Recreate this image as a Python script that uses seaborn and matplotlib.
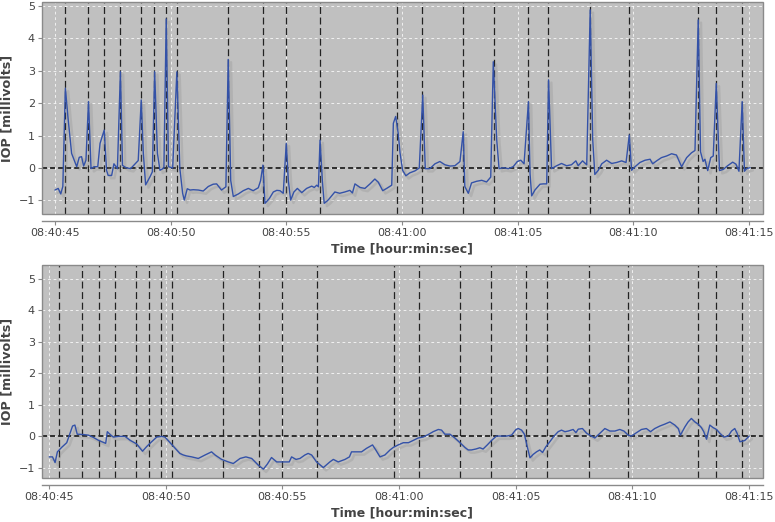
import numpy as np
import pandas as pd
import matplotlib
matplotlib.use("Agg")
import matplotlib.pyplot as plt
import matplotlib.patheffects as pe
from matplotlib.patches import Rectangle
from matplotlib.ticker import FuncFormatter, MultipleLocator
import seaborn as sns

# --- data (time in seconds after 08:40:00, IOP in millivolts) ---
events = [45.43, 46.43, 47.13, 47.82, 48.72, 49.29, 49.82, 50.28, 52.48,
          54.00, 55.01, 56.47, 59.77, 60.88, 62.64, 63.97, 65.46, 66.33,
          68.14, 69.83, 72.81, 73.60, 74.71]

top_t = [45.00, 45.14, 45.25, 45.34, 45.45, 45.56, 45.72, 45.94, 46.05, 46.15,
         46.24, 46.34, 46.45, 46.56, 46.69, 46.85, 46.95, 47.13, 47.23, 47.30,
         47.45, 47.55, 47.70, 47.83, 47.92, 48.07, 48.27, 48.53, 48.60, 48.73,
         48.82, 48.92, 49.11, 49.21, 49.31, 49.43, 49.54, 49.71, 49.81, 49.91,
         50.09, 50.27, 50.40, 50.52, 50.59, 50.72, 50.84, 50.98, 51.20, 51.41,
         51.63, 51.84, 51.99, 52.20, 52.39, 52.49, 52.60, 52.71, 52.93, 53.14,
         53.36, 53.57, 53.79, 53.89, 53.99, 54.08, 54.27, 54.44, 54.59, 54.73,
         54.87, 55.00, 55.09, 55.19, 55.33, 55.48, 55.67, 55.88, 56.10, 56.21,
         56.32, 56.39, 56.46, 56.56, 56.64, 56.81, 57.10, 57.31, 57.53, 57.75,
         57.86, 57.97, 58.19, 58.40, 58.62, 58.83, 58.98, 59.17, 59.34, 59.56,
         59.63, 59.73, 59.84, 59.92, 60.03, 60.17, 60.34, 60.56, 60.75, 60.90,
         61.01, 61.21, 61.43, 61.64, 61.86, 62.08, 62.29, 62.51, 62.65, 62.72,
         62.87, 63.01, 63.23, 63.45, 63.66, 63.84, 63.95, 64.10, 64.20, 64.38,
         64.60, 64.81, 64.99, 65.14, 65.28, 65.47, 65.54, 65.61, 65.75, 65.97,
         66.11, 66.26, 66.34, 66.47, 66.69, 66.90, 67.12, 67.33, 67.52, 67.62,
         67.81, 67.99, 68.14, 68.25, 68.34, 68.49, 68.64, 68.85, 69.07, 69.28,
         69.50, 69.69, 69.83, 69.93, 70.08, 70.29, 70.51, 70.73, 70.84, 71.01,
         71.22, 71.44, 71.66, 71.87, 72.09, 72.31, 72.52, 72.67, 72.81, 72.91,
         73.02, 73.10, 73.22, 73.35, 73.46, 73.59, 73.73, 73.90, 74.08, 74.30,
         74.44, 74.57, 74.71, 74.81, 74.90, 75.05]
top_v = [-0.68, -0.63, -0.80, -0.57, 2.46, 1.58, 0.45, 0.04, 0.33, 0.35,
         0.06, 0.24, 2.05, -0.02, 0.04, 0.04, 0.76, 1.17, -0.07, -0.23,
         -0.23, 0.13, -0.02, 2.97, 0.08, 0.01, -0.02, 0.18, 0.23, 2.10,
         0.46, -0.52, -0.27, -0.12, 2.97, 0.45, -0.07, 0.00, 4.60, 0.04,
         0.00, 2.97, -0.02, -0.78, -0.99, -0.64, -0.68, -0.67, -0.68, -0.71,
         -0.57, -0.50, -0.49, -0.68, -0.58, 3.35, -0.39, -0.88, -0.80, -0.70,
         -0.63, -0.70, -0.61, -0.39, 0.09, -1.09, -0.94, -0.74, -0.69, -0.70,
         -0.78, 0.76, -0.39, -0.99, -0.74, -0.63, -0.76, -0.63, -0.56, -0.60,
         -0.53, -0.58, 0.86, -0.39, -1.09, -0.99, -0.74, -0.78, -0.74, -0.69,
         -0.77, -0.49, -0.60, -0.63, -0.49, -0.34, -0.44, -0.70, -0.63, -0.53,
         1.38, 1.59, 1.07, 0.46, -0.07, -0.24, -0.15, -0.09, 0.00, 2.25,
         -0.02, -0.02, 0.13, 0.20, 0.10, 0.06, 0.07, 0.20, 1.12, -0.57,
         -0.78, -0.46, -0.41, -0.38, -0.43, -0.28, 3.28, 0.86, -0.02, 0.01,
         -0.02, 0.04, 0.20, 0.24, 0.13, 2.05, -0.18, -0.86, -0.68, -0.50,
         -0.49, -0.49, 2.72, -0.02, 0.07, 0.14, 0.07, 0.10, 0.22, 0.07,
         0.22, 0.10, 4.88, 0.86, -0.20, -0.07, 0.13, 0.24, 0.14, 0.17,
         0.22, 0.17, 1.02, -0.07, 0.04, 0.17, 0.24, 0.27, 0.13, 0.22,
         0.32, 0.37, 0.44, 0.40, 0.04, 0.32, 0.47, 0.54, 4.57, 0.50,
         0.20, 0.27, -0.08, 0.32, 0.37, 2.61, -0.08, -0.04, 0.07, 0.18,
         0.12, -0.10, 2.05, -0.10, -0.02, 0.01]

bot_t = [45.01, 45.15, 45.26, 45.36, 45.54, 45.76, 45.90, 46.01, 46.11, 46.21,
         46.47, 46.69, 46.90, 47.11, 47.36, 47.43, 47.50, 47.65, 47.76, 47.98,
         48.26, 48.47, 48.76, 49.01, 49.19, 49.40, 49.62, 49.83, 49.97, 50.19,
         50.40, 50.61, 50.76, 50.90, 51.12, 51.40, 51.69, 51.97, 52.12, 52.40,
         52.69, 52.90, 53.19, 53.44, 53.69, 53.97, 54.19, 54.36, 54.54, 54.76,
         55.04, 55.30, 55.40, 55.59, 55.76, 55.97, 56.11, 56.26, 56.47, 56.76,
         57.04, 57.19, 57.40, 57.69, 57.88, 57.97, 58.11, 58.40, 58.61, 58.87,
         59.01, 59.19, 59.40, 59.62, 59.76, 59.97, 60.19, 60.41, 60.61, 60.83,
         61.04, 61.26, 61.47, 61.69, 61.83, 61.97, 62.19, 62.40, 62.62, 62.83,
         62.97, 63.11, 63.30, 63.47, 63.61, 63.79, 63.97, 64.18, 64.40, 64.61,
         64.83, 65.02, 65.12, 65.26, 65.38, 65.47, 65.62, 65.76, 65.90, 66.04,
         66.16, 66.30, 66.47, 66.65, 66.83, 66.97, 67.12, 67.26, 67.47, 67.59,
         67.69, 67.87, 68.05, 68.26, 68.40, 68.62, 68.83, 69.05, 69.26, 69.47,
         69.65, 69.83, 69.97, 70.19, 70.40, 70.61, 70.79, 70.97, 71.19, 71.40,
         71.62, 71.83, 71.98, 72.07, 72.26, 72.40, 72.54, 72.69, 72.83, 72.97,
         73.07, 73.19, 73.33, 73.47, 73.62, 73.76, 73.93, 74.12, 74.26, 74.40,
         74.50, 74.62, 74.83, 75.02]
bot_v = [-0.65, -0.65, -0.83, -0.49, -0.35, -0.20, 0.10, 0.33, 0.36, 0.07,
         0.06, 0.04, -0.03, -0.12, -0.20, -0.22, 0.15, 0.04, -0.02, 0.00,
         0.00, -0.12, -0.24, -0.47, -0.32, -0.17, -0.02, 0.00, -0.02, -0.20,
         -0.37, -0.54, -0.59, -0.62, -0.65, -0.70, -0.59, -0.49, -0.59, -0.73,
         -0.81, -0.86, -0.70, -0.65, -0.70, -0.91, -1.04, -0.88, -0.67, -0.81,
         -0.81, -0.81, -0.65, -0.73, -0.70, -0.59, -0.54, -0.59, -0.81, -0.99,
         -0.81, -0.73, -0.81, -0.73, -0.65, -0.49, -0.49, -0.49, -0.38, -0.27,
         -0.43, -0.65, -0.59, -0.43, -0.35, -0.27, -0.20, -0.20, -0.13, -0.05,
         -0.02, 0.06, 0.15, 0.22, 0.20, 0.07, 0.07, -0.05, -0.20, -0.35,
         -0.43, -0.43, -0.40, -0.36, -0.40, -0.27, -0.13, 0.01, 0.01, 0.01,
         0.04, 0.22, 0.25, 0.20, 0.07, -0.22, -0.68, -0.57, -0.49, -0.43,
         -0.51, -0.33, -0.17, 0.01, 0.15, 0.20, 0.15, 0.17, 0.22, 0.12,
         0.23, 0.25, 0.10, 0.01, -0.05, 0.10, 0.25, 0.17, 0.17, 0.22,
         0.17, 0.04, 0.01, 0.12, 0.22, 0.25, 0.15, 0.25, 0.33, 0.39,
         0.46, 0.36, 0.25, 0.04, 0.30, 0.46, 0.57, 0.46, 0.39, 0.28,
         0.15, -0.09, 0.36, 0.28, 0.22, 0.10, -0.02, 0.01, 0.17, 0.25,
         0.10, -0.17, -0.13, 0.01]

top_df = pd.DataFrame({"t": top_t, "iop": top_v})
bot_df = pd.DataFrame({"t": bot_t, "iop": bot_v})

# --- style ---
sns.set_theme(style="white")
plt.rcParams["font.family"] = ["DejaVu Sans"]
plt.rcParams["lines.scale_dashes"] = False

BG = "#c0c0c0"
LINE = "#3452a8"
BORDER = "#8a8a8a"
TXT = "#444444"


def clock(s, _pos):
    total = int(round(s))
    return f"08:{40 + total // 60:02d}:{total % 60:02d}"


fig = plt.figure(figsize=(7.75, 5.22), dpi=100)
ax_top = fig.add_axes([0.0542, 0.590, 0.930, 0.406])
ax_bot = fig.add_axes([0.0542, 0.0843, 0.930, 0.408])

panels = [
    (ax_top, top_df, (44.44, 75.6), (-1.42, 5.12)),
    (ax_bot, bot_df, (44.70, 75.6), (-1.32, 5.44)),
]

for ax, df, xlim, ylim in panels:
    ax.set_facecolor(BG)
    ax.set_xlim(*xlim)
    ax.set_ylim(*ylim)
    ax.xaxis.set_major_locator(MultipleLocator(5))
    ax.yaxis.set_major_locator(MultipleLocator(1))
    ax.xaxis.set_major_formatter(FuncFormatter(clock))
    ax.grid(True, color="white", linestyle=(0, (2, 2)), linewidth=0.6, alpha=0.9)
    ax.set_axisbelow(True)

    for ev in events:
        ax.axvline(ev, color="#222222", linewidth=0.9, dashes=(5, 2.6), zorder=2)
    ax.axhline(0, color="#222222", linewidth=1.3, dashes=(3.6, 2.2), zorder=2)

    sns.lineplot(data=df, x="t", y="iop", ax=ax, color=LINE, linewidth=1.0,
                 zorder=3,
                 path_effects=[pe.SimpleLineShadow(offset=(2, -2),
                                                   shadow_color="#808080",
                                                   alpha=0.22, linewidth=1.8),
                               pe.Normal()])

    # plot-area border plus a detached x axis line
    for side in ["top", "right", "left"]:
        ax.spines[side].set_visible(False)
    ax.spines["bottom"].set_position(("outward", 5))
    ax.spines["bottom"].set_color(BORDER)
    ax.spines["bottom"].set_linewidth(1.0)
    ax.add_patch(Rectangle((0, 0), 1, 1, transform=ax.transAxes, fill=False,
                           edgecolor=BORDER, linewidth=1.0, zorder=5,
                           clip_on=False))

    ax.tick_params(axis="both", which="major", direction="out", length=3,
                   width=0.8, color=BORDER, labelsize=8, labelcolor=TXT,
                   bottom=True, left=True, pad=2)
    ax.set_xlabel("Time [hour:min:sec]", fontsize=9, fontweight="bold",
                  color=TXT, labelpad=3)
    ax.set_ylabel("IOP [millivolts]", fontsize=9.2, fontweight="bold",
                  color=TXT, labelpad=4)

fig.savefig("out.png", dpi=100, facecolor="white")
